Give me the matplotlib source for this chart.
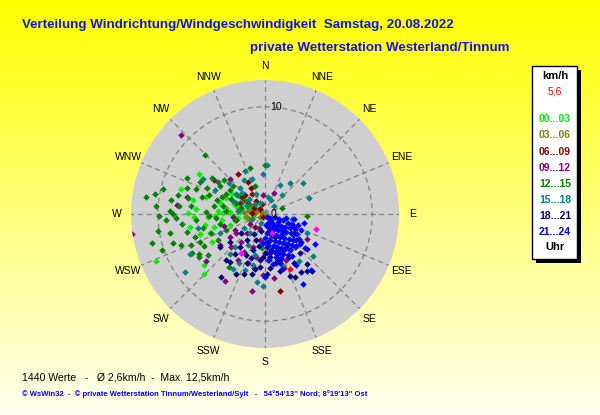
import numpy as np
import matplotlib.pyplot as plt
from matplotlib.patches import Rectangle

# wind vectors (east, north) in km/h, grouped by hour of day
h00_03 = [(-10.2,-4.4),(-6.2,3.7),(-5.9,3.3),(-7.8,2.3),(-6.7,1.3),(-5.5,1.6),(-5.1,-1.8),(-4.9,-2.6),
          (-5.7,-5.6),(-5.7,-4.8),(-4.7,-0.2),(-3.9,0.1),(-3.3,0.2),(-2.7,0.7),(-2.3,0.2),(-1.9,-0.3),
          (-3.6,1.5),(-5.3,-0.3),(-7.0,-1.2),(-6.1,-1.9),(-4.2,1.0),(-3.0,-0.2),(-1.4,0.4),(-0.9,0.1),
          (-2.3,1.6),(-4.8,-1.2),(-6.4,0.5),(-3.3,-1.0),(-2.9,0.9),(-2.1,0.8),(-1.6,0.6),(-1.1,0.5),
          (-3.6,0.6),(-4.4,0.3),(-2.5,-0.4),(-4.0,-0.6),(-6.6,-0.3),(-3.1,1.9),(-7.2,0.1),(-5.6,-1.0)]
h03_06 = [(-1.1,-0.1),(-0.8,0.2),(-1.7,-0.25),(-1.25,0.7),(-0.5,-0.25),(-2.0,0.2),(-1.4,-0.6),
          (-0.6,0.5),(-2.4,0.5),(-0.3,0.1),(-1.5,0.3)]
h06_09 = [(-2.5,3.7),(-1.6,3.0),(1.4,-7.2),(-1.9,1.8),(-1.2,1.9),(-2.1,1.6),(-0.8,1.2),(-0.5,0.5),
          (-1.25,0.1),(-1.6,1.0),(-2.7,-0.6),(-0.9,-1.2),(-0.3,0.9),(-1.0,0.6),(-0.2,-0.3),(-1.3,2.4),
          (0.4,-1.6)]
h09_12 = [(-7.8,7.4),(-12.4,-1.9),(-1.25,-7.2),(-3.75,-6.25),(-3.2,-3.1),(-5.5,-4.4),(-7.3,1.6),
          (-8.2,0.8),(-3.3,3.3),(-0.2,1.8),(0.8,2.0),(-2.5,-4.3),(-1.6,-4.6),(0.8,-6.0),(-0.2,-5.7),
          (-2.7,-1.8),(-4.2,-2.9),(-1.7,-1.8),(-0.5,-2.4),(1.1,-3.4),(2.0,-4.3),(2.8,-3.1),(-4.8,3.2),
          (-2.3,1.0),(-2.8,-1.5),(2.7,-1.2),(3.9,-2.3),(0.3,-4.3),(-1.1,-3.1),(-3.3,-2.1),(-2.0,-3.5),
          (-0.8,-4.0),(-1.4,-0.9),(-0.6,-1.3),(0.5,-1.0),(1.5,-2.0),(-2.2,-2.6),(-1.0,-5.0),(0.2,-3.6),
          (1.8,-5.0),(-3.0,-0.3),(-3.8,-1.1)]
h12_15 = [(-11.1,1.6),(-10.3,1.9),(-10.2,0.7),(-9.5,2.3),(-8.8,1.3),(-8.9,0.3),(-8.6,0.0),(-8.1,1.8),
          (-7.3,3.4),(-7.3,2.4),(-7.2,1.5),(-8.0,0.7),(-6.9,0.7),(-6.4,2.3),(-6.1,3.0),(-5.9,1.6),
          (-5.4,2.4),(-5.2,1.8),(-4.8,0.7),(-5.6,5.5),(-1.4,4.3),(-10.5,-2.7),(-10.0,-1.6),(-9.6,-3.4),
          (-8.9,-1.8),(-8.6,-2.7),(-7.8,-2.9),(-7.3,-1.7),(-6.9,-2.9),(-6.2,-4.0),(-6.1,-2.6),(-6.5,-2.1),
          (-5.8,-1.3),(-4.2,-0.9),(-3.6,1.9),(-3.0,2.6),(-4.2,2.6),(-4.5,1.3),(-3.9,0.7),(-2.7,1.0),
          (-2.0,1.3),(-9.2,-0.6),(-8.3,-0.4),(-7.7,-0.9),(-6.4,-0.6),(-5.5,0.2),(-5.2,-0.2),(-3.4,-4.9),
          (1.6,0.6),(3.9,-0.2),(0.0,4.6),(-4.9,3.4),(-4.4,3.0),(-3.8,3.2),(-3.3,2.2),(-4.0,1.6),
          (-3.2,1.4),(-2.6,1.8),(-2.2,0.6),(-1.6,0.9),(-3.6,0.3),(-4.6,-0.4),(-5.0,-1.8),(-5.7,-3.0),
          (-6.8,-3.6),(-5.3,-3.8),(-4.4,-2.4),(-3.6,-1.5),(-2.8,-0.6),(-0.9,2.6),(-9.9,-0.2),(-6.2,-3.75)]
h15_18 = [(0.2,4.6),(2.3,2.9),(3.5,2.9),(4.1,1.5),(1.4,2.7),(1.6,1.8),(0.6,1.3),(-1.9,4.0),(-2.0,3.2),
          (-1.25,3.3),(-0.2,3.7),(-0.5,1.0),(0.3,1.6),(0.8,0.7),(-7.5,-5.4),(-7.0,-3.75),(-6.25,-1.3),
          (-2.8,-3.1),(-1.1,-4.8),(-0.7,-6.3),(-0.2,-6.75),(4.5,-3.9),(3.9,-1.8),(2.5,-0.5),(-5.8,3.3),
          (-2.3,2.4),(-3.0,-5.1),(-1.9,-5.25),(-3.3,-3.7),(-0.9,-3.8),(-4.2,-1.8),(-4.7,2.25),(-1.4,-1.8),
          (0.6,-2.1),(1.1,-4.3),(1.9,-2.6),(-1.7,0.7),(-2.7,1.9),(-0.8,1.9),(-2.1,2.0),(-1.5,1.4),
          (-0.9,0.9),(-3.0,1.2),(-2.5,0.3),(-3.4,2.9),(-1.2,-0.5),(-0.4,-0.8),(-2.0,-1.3),(0.9,-3.0),
          (1.6,-4.8),(-1.6,-2.9),(-2.4,-4.6),(-0.3,-3.2),(2.4,-3.3),(3.2,-4.4)]
h18_21 = [(-4.1,-5.9),(-3.3,-4.5),(-2.7,-5.6),(-2.0,-5.6),(-1.25,-5.6),(-0.5,-4.3),(0.5,-5.0),(1.4,-5.3),
          (2.3,-5.8),(2.8,-5.9),(3.4,-5.4),(3.9,-4.7),(4.4,-5.3),(3.9,-3.3),(3.3,-3.6),(2.0,-3.1),
          (1.1,-3.7),(0.2,-3.1),(-1.1,-3.4),(-1.7,-2.4),(-3.3,-2.6),(-2.3,-3.1),(-2.8,-3.7),(-0.5,-4.9),
          (1.4,-4.3),(2.7,-4.6),(0.5,-4.0),(2.7,-1.8),(3.4,-2.6),(1.7,-1.8),(-0.8,-2.4),(-4.2,-3.1),
          (-3.6,-4.3),(-1.7,-4.6),(0.2,-5.6),(2.2,-4.0),(0.9,-2.1),(-2.2,-1.8),(-0.4,-1.6),(0.3,-2.6),
          (-0.6,-3.0),(0.6,-3.4),(-0.2,-4.0),(1.0,-4.6),(0.0,-3.6),(-1.3,-4.1),(1.7,-3.4),(0.8,-1.2),
          (-1.0,-1.9),(3.9,-5.3),(-0.9,-5.1),(-1.8,-3.8),(2.9,-2.4)]
h21_24 = [(0.2,-0.3),(0.5,-0.4),(0.9,-0.3),(1.3,-0.5),(1.7,-0.6),(2.1,-0.8),(2.5,-0.9),(0.3,-0.8),
          (0.7,-0.9),(1.1,-1.0),(1.5,-1.1),(1.9,-1.2),(2.3,-1.3),(2.8,-1.4),(0.4,-1.3),(0.8,-1.4),
          (1.2,-1.5),(1.6,-1.6),(2.0,-1.7),(2.4,-1.8),(3.0,-1.9),(0.2,-1.8),(0.6,-1.9),(1.0,-2.0),
          (1.4,-2.1),(1.8,-2.2),(2.2,-2.3),(2.6,-2.4),(3.2,-2.3),(0.5,-2.4),(0.9,-2.5),(1.3,-2.6),
          (1.7,-2.7),(2.1,-2.8),(2.5,-2.9),(2.9,-3.0),(0.3,-2.9),(0.7,-3.0),(1.1,-3.1),(1.5,-3.2),
          (1.9,-3.3),(2.3,-3.4),(0.9,-3.5),(1.3,-3.6),(1.7,-3.7),(2.1,-3.8),(0.5,-3.6),(1.0,-4.0),
          (1.5,-4.1),(0.4,-4.3),(0.1,-1.0),(0.0,-2.2),(-0.2,-2.7),(2.7,-0.5),(3.1,-1.0),(3.4,-1.5),
          (3.3,-2.8),(1.2,-0.7),(2.0,-0.4),(1.8,-1.6),(0.6,-0.6),(2.6,-2.0),(1.4,-4.6),(0.7,-4.7),
          (2.5,-3.9),(3.7,-3.2),(3.6,-0.8),(4.7,-2.8),(3.5,-6.5),(4.3,-5.2),(0.0,-5.9),(2.9,-4.8),
          (1.6,-5.1)]
extra_pts = [(4.8,-1.4),(0.65,-1.8),(-2.2,-3.6)]
current = [(2.35,-5.1)]

hour_labels = ['00...03','03...06','06...09','09...12','12...15','15...18','18...21','21...24']
hour_colors = ['#00ee00','#808000','#800000','#800080','#008000','#008080','#000080','#0000ff']
groups = [h00_03, h03_06, h06_09, h09_12, h12_15, h15_18, h18_21, h21_24]
compass = ['N','NNE','NE','ENE','E','ESE','SE','SSE','S','SSW','SW','WSW','W','WNW','NW','NNW']
current_speed = '5,6'
r_max = 12.5

fig = plt.figure(figsize=(6, 4.15), dpi=100)

# yellow background gradient
bg = fig.add_axes([0, 0, 1, 1])
grad = np.linspace(0, 1, 256).reshape(-1, 1)
img = np.zeros((256, 1, 3))
img[:, :, 0] = 1.0
img[:, :, 1] = 1.0
img[:, :, 2] = grad * 0.94
bg.imshow(img, aspect='auto', extent=[0, 1, 0, 1], origin='upper')
bg.axis('off')

ax = fig.add_axes([131/600, 67/415, 268/600, 268/415], projection='polar')
ax.set_theta_zero_location('N')
ax.set_theta_direction(-1)
ax.set_facecolor('#cfcfcf')
ax.spines['polar'].set_visible(False)
ax.set_rlim(0, r_max)
ax.set_thetagrids(np.arange(0, 360, 22.5), labels=[])
ax.set_rgrids([10], labels=[''])
ax.grid(True, color='#808080', linestyle=(0, (4, 3)), linewidth=0.9)


def draw(pts, color):
    e = np.array([p[0] for p in pts])
    n = np.array([p[1] for p in pts])
    ax.scatter(np.arctan2(e, n), np.hypot(e, n), s=11, marker='D', color=color,
               linewidths=0, zorder=3)


for g, c in zip(groups, hour_colors):
    draw(g, c)
draw(extra_pts, '#ff00ff')
draw(current, '#ff0000')

for i, lab in enumerate(compass):
    ax.text(np.deg2rad(i * 22.5), 13.8, lab, ha='center', va='center', fontsize=7.5,
            family='Liberation Sans', clip_on=False)
ax.annotate('10', xy=(0, 10), xytext=(3.5, 0), textcoords='offset points', ha='left',
            va='center', fontsize=7.5, family='Liberation Sans', zorder=4)
ax.annotate('0', xy=(0, 0), xytext=(4, 0), textcoords='offset points', ha='left',
            va='center', fontsize=7.5, family='Liberation Sans', zorder=4)

fig.text(22/600, 1 - 25/415, 'Verteilung Windrichtung/Windgeschwindigkeit  Samstag, 20.08.2022',
         ha='left', va='center', fontsize=9.6, weight='bold', color='#1414dc', family='Liberation Sans')
fig.text(250/600, 1 - 48/415, 'private Wetterstation Westerland/Tinnum',
         ha='left', va='center', fontsize=9.6, weight='bold', color='#1414dc', family='Liberation Sans')

# legend box with shadow
fig.patches.append(Rectangle((536/600, 1 - 263/415), 45/600, 193/415, transform=fig.transFigure,
                             facecolor='black', edgecolor='none', zorder=1))
fig.patches.append(Rectangle((532/600, 1 - 259/415), 45/600, 193/415, transform=fig.transFigure,
                             facecolor='white', edgecolor='black', linewidth=1, zorder=2))
lx = 555/600
fig.text(lx, 1 - 76/415, 'km/h', ha='center', va='center', fontsize=8, weight='bold',
         family='Liberation Sans', zorder=5)
fig.text(lx, 1 - 92/415, current_speed, ha='center', va='center', fontsize=7.5, color='#ff0000',
         family='Liberation Sans', zorder=5)
for i, (lab, c) in enumerate(zip(hour_labels, hour_colors)):
    fig.text(lx, 1 - (119.5 + i * 16) / 415, lab, ha='center', va='center', fontsize=7.5,
             weight='bold', color=c, family='Liberation Sans', zorder=5)
fig.text(lx, 1 - 247/415, 'Uhr', ha='center', va='center', fontsize=8, weight='bold',
         family='Liberation Sans', zorder=5)

fig.text(22/600, 1 - 377/415, '1440 Werte   -   Ø 2,6km/h  -  Max. 12,5km/h', ha='left',
         va='center', fontsize=7.6, family='Liberation Sans')
fig.text(22/600, 1 - 394/415,
         "© WsWin32  -  © private Wetterstation Tinnum/Westerland/Sylt   -   54°54'13'' Nord; 8°19'13'' Ost",
         ha='left', va='center', fontsize=5.5, weight='bold', color='#0000ff', family='Liberation Sans')

fig.savefig('out.png', dpi=100)
